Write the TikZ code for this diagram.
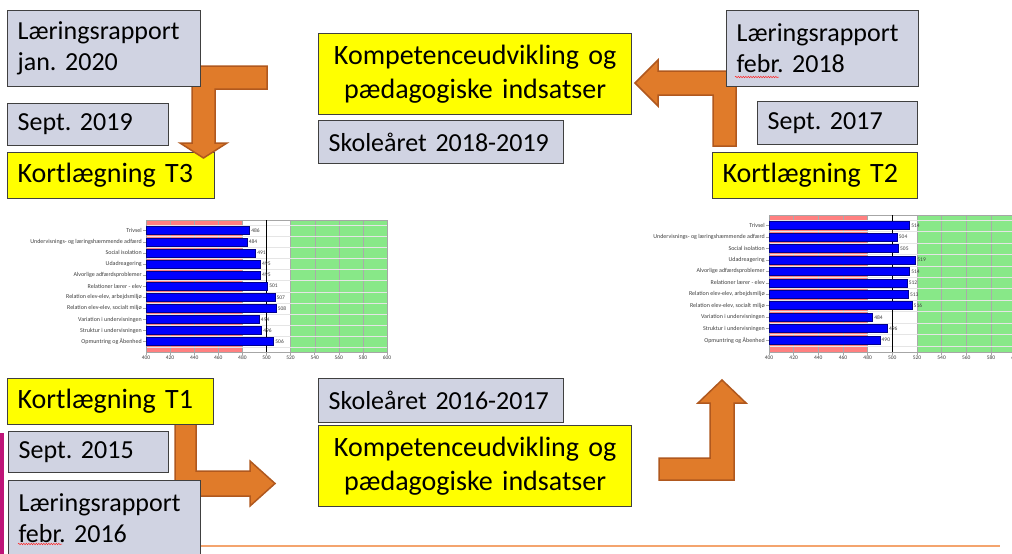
\documentclass[tikz,border=0pt]{standalone}
\usepackage{fontspec}
\setmainfont{Carlito}
\usetikzlibrary{decorations.pathmorphing}
\frenchspacing

\definecolor{boxgray}{RGB}{208,211,226}
\definecolor{boxyellow}{RGB}{255,255,0}
\definecolor{boxline}{RGB}{64,64,64}
\definecolor{arrowfill}{RGB}{224,123,42}
\definecolor{arrowline}{RGB}{176,88,30}
\definecolor{redband}{RGB}{255,128,128}
\definecolor{greenband}{RGB}{136,232,136}
\definecolor{barblue}{RGB}{0,0,255}
\definecolor{barline}{RGB}{0,0,140}
\definecolor{gridgray}{RGB}{170,170,170}
\definecolor{footorange}{RGB}{244,164,110}
\definecolor{sidebar}{RGB}{190,20,120}

% row number / value T1 / value T2 / label
\newcommand\trivselrows{0/486/514/Trivsel,
  1/484/504/Undervisnings- og læringshæmmende adfærd,
  2/491/505/Social isolation, 3/495/519/Udadreagering,
  4/495/514/Alvorlige adfærdsproblemer, 5/501/512/Relationer lærer - elev,
  {6/507/513/Relation elev-elev, arbejdsmiljø},
  {7/508/516/Relation elev-elev, socialt miljø},
  8/494/484/Variation i undervisningen, 9/496/496/Struktur i undervisningen,
  10/506/490/Opmuntring og Åbenhed}

\begin{document}
\begin{tikzpicture}[x=1pt,y=-1pt,
  graybox/.style={draw=boxline, line width=1.3pt, fill=boxgray, anchor=north west,
    align=left, inner xsep=10pt, inner ysep=0pt, font=\fontsize{26}{31}\selectfont},
  yellowbox/.style={graybox, fill=boxyellow, font=\fontsize{28}{34}\selectfont},
  blockarrow/.style={fill=arrowfill, draw=arrowline, line width=1.5pt},
  spellmark/.style={draw=red!85, line width=0.5pt, decorate,
    decoration={snake, amplitude=0.7pt, segment length=2.5pt}},
  grid/.style={draw=gridgray, line width=0.4pt},
  frame/.style={draw=gray!70, line width=0.5pt},
  bar/.style={fill=barblue, draw=barline, line width=0.6pt},
  catlabel/.style={anchor=east, inner sep=1pt, text=black!75, font=\fontsize{6}{6}\selectfont},
  vallabel/.style={anchor=west, inner sep=1.5pt, text=black!75, font=\fontsize{5.5}{6}\selectfont},
  ticklabel/.style={anchor=north, inner sep=1pt, text=black!75, font=\fontsize{5.5}{6}\selectfont}]
\useasboundingbox (0,0) rectangle (1012,554);
\clip (0,0) rectangle (1012,554);
\fill[white] (0,0) rectangle (1012,554);

% chart T1
\begin{scope}[shift={(146,0)}, x=1.205pt]
\fill[redband] (0,220) rectangle (80,352);
\fill[greenband] (120,220) rectangle (200,352);
\foreach \g in {20,40,...,180} \draw[grid] (\g,220) -- (\g,352);
\foreach \k in {0,...,11} \draw[grid, draw=white!80!gray] (0,{225.15+11.1*\k}) -- (200,{225.15+11.1*\k});
\draw[frame] (0,220) rectangle (200,352);
\draw[line width=1.2pt] (100,220) -- (100,352);
\foreach \k/\a/\b/\lbl in \trivselrows {
  \filldraw[bar] (0,{226.7+11.1*\k}) rectangle (\a-400,{234.7+11.1*\k});
  \draw[frame] (-2.5,{230.7+11.1*\k}) -- (0,{230.7+11.1*\k});
  \node[catlabel] (lcat\k) at (-2.5,{230.7+11.1*\k}) {\lbl};
  \node[vallabel] (lval\k) at (\a-400,{230.7+11.1*\k}) {\a};
}
\foreach \g [evaluate=\g as \tv using int(400+\g)] in {0,20,...,200} {
  \draw[frame] (\g,352) -- (\g,355);
  \node[ticklabel] (ltick\g) at (\g,355) {\tv};
}
\end{scope}

% chart T2
\begin{scope}[shift={(769,0)}, x=1.233pt]
\fill[redband] (0,215) rectangle (80,352);
\fill[greenband] (120,215) rectangle (200,352);
\foreach \g in {20,40,...,180} \draw[grid] (\g,215) -- (\g,352);
\foreach \k in {0,...,11} \draw[grid, draw=white!80!gray] (0,{220+11.43*\k}) -- (200,{220+11.43*\k});
\draw[frame] (0,215) rectangle (200,352);
\draw[line width=1.2pt] (100,215) -- (100,352);
\foreach \k/\a/\b/\lbl in \trivselrows {
  \filldraw[bar] (0,{221.7+11.43*\k}) rectangle (\b-400,{229.7+11.43*\k});
  \draw[frame] (-2.5,{225.7+11.43*\k}) -- (0,{225.7+11.43*\k});
  \node[catlabel] (rcat\k) at (-2.5,{225.7+11.43*\k}) {\lbl};
  \node[vallabel] (rval\k) at (\b-400,{225.7+11.43*\k}) {\b};
}
\foreach \g [evaluate=\g as \tv using int(400+\g)] in {0,20,...,200} {
  \draw[frame] (\g,352) -- (\g,355);
  \node[ticklabel] (rtick\g) at (\g,355) {\tv};
}
\end{scope}

% bottom line and side bar
\draw[footorange, line width=2pt] (150,546) -- (1000,546);
\fill[sidebar] (0,433) rectangle (4,554);

% arrows
\draw[blockarrow] (713,146) -- (713,95) -- (658,95) -- (658,106) -- (635,83)
  -- (658,60) -- (658,71) -- (736,71) -- (736,146) -- cycle;
\draw[blockarrow] (175,423) -- (175,496) -- (250,496) -- (250,506) -- (275,483.5)
  -- (250,461) -- (250,471) -- (196,471) -- (196,423) -- cycle;
\draw[blockarrow] (659,480) -- (734,480) -- (734,403) -- (746,403) -- (722,380)
  -- (698,403) -- (710,403) -- (710,458) -- (659,458) -- cycle;

% T3, top left
\node[yellowbox, text width=187pt, minimum height=46pt] (kortT3) at (7,152) {Kortlægning T3};
\draw[blockarrow] (267,66) -- (192,66) -- (192,143) -- (180,143) -- (203.5,158)
  -- (227,143) -- (215,143) -- (215,89) -- (267,89) -- cycle;
\node[graybox, text width=173pt, minimum height=76pt] (rapjan) at (7,10) {Læringsrapport\\jan. 2020};
\node[graybox, text width=141pt, minimum height=42pt] (sep19) at (7,103) {Sept. 2019};

% top middle
\node[yellowbox, align=center, text width=293pt, minimum height=81pt] (kompA) at (318,33)
  {Kompetenceudvikling og\\pædagogiske indsatser};
\node[graybox, text width=225pt, minimum height=43pt] (skoleA) at (318,120) {Skoleåret 2018-2019};

% T2, top right
\node[graybox, text width=172pt, minimum height=76pt] (rapfeb18) at (726,10) {Læringsrapport\\febr. 2018};
\draw[spellmark] (735,77) -- (779,77);
\node[graybox, text width=140pt, minimum height=43pt] (sep17) at (757,101) {Sept. 2017};
\node[yellowbox, text width=185pt, minimum height=46pt] (kortT2) at (712,152) {Kortlægning T2};

% T1, bottom left
\node[yellowbox, text width=186pt, minimum height=46pt] (kortT1) at (7,378) {Kortlægning T1};
\node[graybox, text width=140pt, minimum height=41pt] (sep15) at (8,431) {Sept. 2015};
\node[graybox, text width=172pt, minimum height=76pt] (rapfeb16) at (8,480) {Læringsrapport\\febr. 2016};
\draw[spellmark] (18,544) -- (62,544);

% bottom middle
\node[graybox, text width=225pt, minimum height=44pt] (skoleB) at (318,378) {Skoleåret 2016-2017};
\node[yellowbox, align=center, text width=293pt, minimum height=81pt] (kompB) at (318,425)
  {Kompetenceudvikling og\\pædagogiske indsatser};
\end{tikzpicture}
\end{document}
